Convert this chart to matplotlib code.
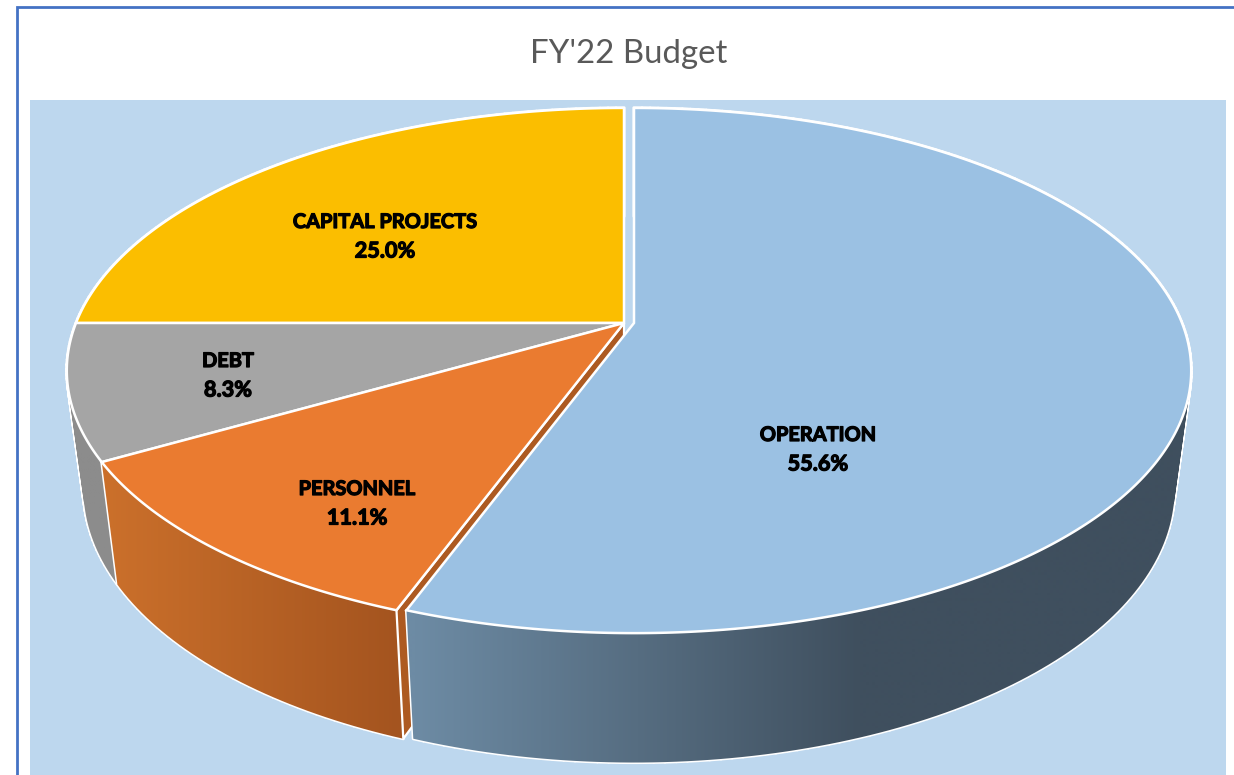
import numpy as np
import matplotlib
matplotlib.use("Agg")
import matplotlib.pyplot as plt
import matplotlib.patheffects as pe
from matplotlib.collections import PolyCollection
from matplotlib.colors import to_rgb
from matplotlib.patches import PathPatch, Polygon, Rectangle
from matplotlib.path import Path

# Chart values
categories = ['OPERATION', 'PERSONNEL', 'DEBT', 'CAPITAL PROJECTS']
shares = [55.6, 11.1, 8.3, 25.0]
top_colors = ['#9bc1e3', '#ea7b30', '#a5a5a5', '#fbbe00']

# side shading: colour at left x, colour at right x
side_shades = [
    (415, '#6d8ba4', 860, '#3f4f5e'),
    (105, '#cb702b', 400, '#a4541f'),
    (65, '#8c8c8c', 115, '#8c8c8c'),
    (65, '#8c8c8c', 115, '#8c8c8c'),
]

# Pie geometry in picture pixels
APEX_Y = 323
RADIUS_X = 548
RADIUS_Y = 254
PERSPECTIVE = 0.181
BOTTOM_X_SCALE = 0.97
BOTTOM_Y_SCALE = 1.04
BOTTOM_APEX_Y = 440


def top_point(theta, x0):
    # theta in degrees, clockwise from 12 o'clock
    rad = np.radians(theta)
    den = 1 + PERSPECTIVE * np.cos(rad)
    return x0 + RADIUS_X * np.sin(rad) / den, APEX_Y - RADIUS_Y * np.cos(rad) / den


def bottom_point(theta, x0):
    x, y = top_point(theta, x0)
    return x0 + BOTTOM_X_SCALE * (x - x0), BOTTOM_APEX_Y + BOTTOM_Y_SCALE * (y - APEX_Y)


def shade(x, shades):
    x1, c1, x2, c2 = shades
    t = np.clip((x - x1) / (x2 - x1), 0, 1)[..., None]
    return np.array(to_rgb(c1)) * (1 - t) + np.array(to_rgb(c2)) * t


def draw_side(ax, start, end, x0, shades):
    thetas = np.linspace(start, end, int(end - start) + 2)
    quads = []
    for a, b in zip(thetas[:-1], thetas[1:]):
        quad = np.array([top_point(a, x0), top_point(b, x0), bottom_point(b, x0), bottom_point(a, x0)])
        # same winding for every quad, the clip path below needs that
        x, y = quad.T
        if np.dot(x, np.roll(y, 1)) - np.dot(y, np.roll(x, 1)) < 0:
            quad = quad[::-1]
        quads.append(quad)
    # white pass first so only the outer outline of the band stays visible
    ax.add_collection(PolyCollection(quads, facecolors='white', edgecolors='white', linewidths=2.2))

    # x gradient, clipped to the band
    verts = np.concatenate([np.vstack([q, q[0]]) for q in quads])
    codes = np.tile([Path.MOVETO, Path.LINETO, Path.LINETO, Path.LINETO, Path.CLOSEPOLY], len(quads))
    band = PathPatch(Path(verts, codes), facecolor='none', edgecolor='none', transform=ax.transData)
    ax.add_patch(band)
    xs = np.arange(np.floor(verts[:, 0].min()), np.ceil(verts[:, 0].max()) + 1)
    ys = [verts[:, 1].min(), verts[:, 1].max()]
    # zorder 1 keeps the image in drawing order with the patches
    img = ax.imshow(shade(xs, shades)[None, :, :], extent=[xs[0], xs[-1], ys[1], ys[0]],
                    aspect='auto', interpolation='bilinear', zorder=1)
    img.set_clip_path(band)


def draw_top(ax, start, end, x0, color):
    thetas = np.linspace(start, end, int(end - start) * 2 + 2)
    xs, ys = top_point(thetas, x0)
    pts = [(x0, APEX_Y)] + list(zip(xs, ys))
    ax.add_patch(Polygon(pts, closed=True, facecolor=color, edgecolor='white', linewidth=1.8, joinstyle='miter'))


fig = plt.figure(figsize=(12.34, 7.75), dpi=100)
ax = fig.add_axes([0, 0, 1, 1])
ax.axis('off')

# Frame and plot area
ax.add_patch(Rectangle((30, 100), 1196, 680, facecolor='#bdd7ee', edgecolor='none'))
ax.plot([17, 17, 1234], [775, 7, 7], color='#4472c4', linewidth=2, solid_joinstyle='miter')
ax.text(629, 54, "FY'22 Budget", fontsize=23.8, family='Lato', color='#595959', ha='center', va='center')

edges = np.concatenate([[0], np.cumsum(shares)]) * 3.6
offsets = [634, 624, 624, 624]  # the first slice is pulled out a little

# Back to front: capital, debt, personnel, then the pulled out operation slice
for i in [3, 2, 1]:
    draw_side(ax, edges[i], edges[i + 1], offsets[i], side_shades[i])

# Cut face of personnel, seen beside the pulled out slice
x0 = offsets[1]
face = [(x0, APEX_Y), top_point(edges[1], x0), bottom_point(edges[1], x0), (x0, BOTTOM_APEX_Y)]
ax.add_patch(Polygon(face, closed=True, facecolor='#ad5a21', edgecolor='white', linewidth=1.6))

draw_side(ax, edges[0], edges[1], offsets[0], side_shades[0])

for i in [3, 2, 1, 0]:
    draw_top(ax, edges[i], edges[i + 1], offsets[i], top_colors[i])

# Data labels
label_xy = [(818, 435), (357, 489), (228, 361), (385, 222)]
for name, share, (lx, ly) in zip(categories, shares, label_xy):
    for text, y, size in ((name, ly, 14.4), (f'{share:.1f}%', ly + 29, 15.6)):
        ax.text(lx, y, text, fontsize=size, family='Lato', fontweight='bold', color='black',
                ha='center', va='center',
                path_effects=[pe.withStroke(linewidth=0.9, foreground='black')])

# imshow resets the limits, so set them last
ax.set_xlim(0, 1234)
ax.set_ylim(775, 0)

fig.savefig('out.png', dpi=100)
